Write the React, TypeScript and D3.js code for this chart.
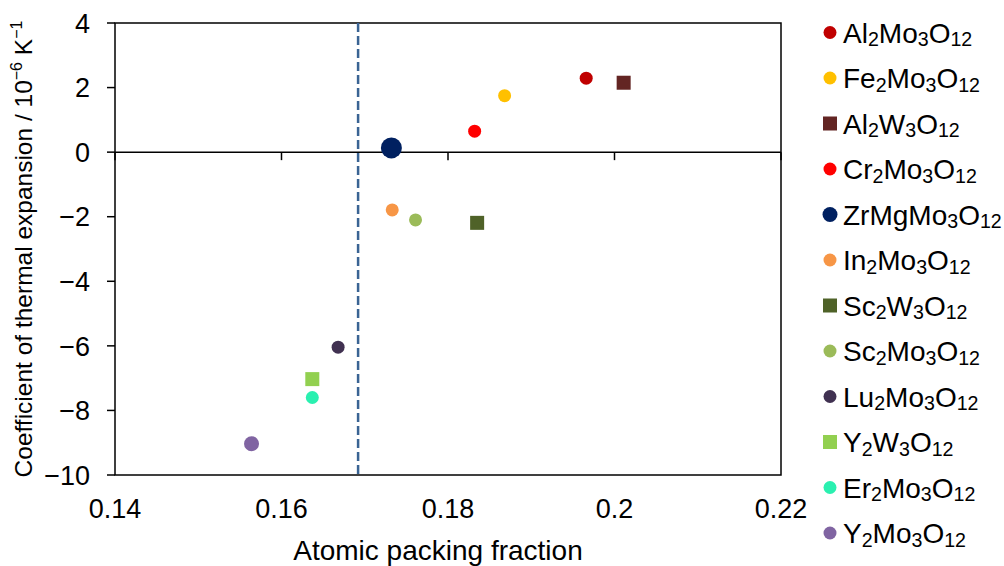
import React from "react";
import * as d3 from "d3";

// compounds
const names = [
  "Al2Mo3O12", "Fe2Mo3O12", "Al2W3O12", "Cr2Mo3O12", "ZrMgMo3O12", "In2Mo3O12",
  "Sc2W3O12", "Sc2Mo3O12", "Lu2Mo3O12", "Y2W3O12", "Er2Mo3O12", "Y2Mo3O12",
];
const packing = [0.1966, 0.1868, 0.2011, 0.1832, 0.1732, 0.1733, 0.1835, 0.1761, 0.1668, 0.1637, 0.1637, 0.1564];
const cte = [2.29, 1.75, 2.15, 0.65, 0.13, -1.79, -2.19, -2.1, -6.04, -7.03, -7.6, -9.03];
const shapes = ["circle", "circle", "square", "circle", "circle", "circle", "square", "circle", "circle", "square", "circle", "circle"];
const colors = [
  "#C00000", "#FFC000", "#632523", "#FF0000", "#002060", "#F79646",
  "#4F6228", "#9BBB59", "#403151", "#92D050", "#2AF0B0", "#8064A2",
];
const bigMarkers = ["ZrMgMo3O12"];

const xTicks = [0.14, 0.16, 0.18, 0.2, 0.22];
const yTicks = [4, 2, 0, -2, -4, -6, -8, -10];
const threshold = 0.1692;

const W = 1004;
const H = 566;
const font = "'Liberation Sans', Arial, sans-serif";

// split "Al2Mo3O12" into text / subscript runs
const formula = (name: string, size: number) => {
  const parts = name.match(/[A-Za-z]+|\d+/g) || [];
  const shift = size * 0.14;
  return parts.map((p, i) =>
    /\d/.test(p) ? (
      <tspan key={i} fontSize={size * 0.7} dy={shift}>{p}</tspan>
    ) : (
      <tspan key={i} dy={i > 0 ? -shift : 0}>{p}</tspan>
    )
  );
};

const Marker = ({ x, y, shape, color, r }: any) =>
  shape === "square" ? (
    <rect x={x - r} y={y - r} width={r * 2} height={r * 2} fill={color} />
  ) : (
    <circle cx={x} cy={y} r={r} fill={color} />
  );

export default function App() {
  const x = d3.scaleLinear().domain([0.14, 0.22]).range([115, 781]);
  const y = d3.scaleLinear().domain([-10, 4]).range([475, 23]);
  const fmt = (v: number) => (v < 0 ? "\u2212" + Math.abs(v) : String(v));

  const radius = (i: number) => {
    if (bigMarkers.includes(names[i])) return 10.5;
    if (shapes[i] === "square") return 7;
    if (names[i] === "Y2Mo3O12") return 7.5;
    return 6.5;
  };

  return (
    <svg
      width={W}
      height={H}
      style={{ position: "absolute", left: 0, top: 0, background: "#fff" }}
      fontFamily={font}
    >
      {/* frame */}
      <rect x={x(0.14)} y={y(4)} width={x(0.22) - x(0.14)} height={y(-10) - y(4)} fill="none" stroke="#000" strokeWidth={1.5} />
      {/* y ticks + labels */}
      {yTicks.map((t) => (
        <g key={t}>
          <line x1={x(0.14) - 8} x2={x(0.14)} y1={y(t)} y2={y(t)} stroke="#000" strokeWidth={1.5} />
          <text x={90} y={y(t)} dy="0.36em" textAnchor="end" fontSize={27}>{fmt(t)}</text>
        </g>
      ))}
      {/* x axis at zero */}
      <line x1={x(0.14)} x2={x(0.22)} y1={y(0)} y2={y(0)} stroke="#000" strokeWidth={1.5} />
      {xTicks.map((t) => (
        <g key={t}>
          <line x1={x(t)} x2={x(t)} y1={y(0)} y2={y(0) + 8} stroke="#000" strokeWidth={1.5} />
          <text x={x(t)} y={518} textAnchor="middle" fontSize={27}>{t}</text>
        </g>
      ))}
      {/* threshold line */}
      <line x1={x(threshold)} x2={x(threshold)} y1={y(4)} y2={y(-10)} stroke="#3A6494" strokeWidth={2.5} strokeDasharray="9,4" />
      {/* points */}
      {names.map((n, i) => (
        <Marker key={n} x={x(packing[i])} y={y(cte[i])} shape={shapes[i]} color={colors[i]} r={radius(i)} />
      ))}
      {/* axis titles */}
      <text x={438} y={560} textAnchor="middle" fontSize={28}>Atomic packing fraction</text>
      <text transform="translate(32,249) rotate(-90)" textAnchor="middle" fontSize={24.5}>
        Coefficient of thermal expansion / 10
        <tspan fontSize={16} dy={-10}>{"\u22126"}</tspan>
        <tspan dy={10}> K</tspan>
        <tspan fontSize={16} dy={-10}>{"\u22121"}</tspan>
      </text>
      {/* legend */}
      {names.map((n, i) => {
        const ly = 32.5 + i * 45.5;
        const r = bigMarkers.includes(n) ? 7.5 : shapes[i] === "square" ? 7 : 6.5;
        return (
          <g key={n}>
            <Marker x={830} y={ly} shape={shapes[i]} color={colors[i]} r={r} />
            <text x={843} y={ly + 10} fontSize={28}>{formula(n, 28)}</text>
          </g>
        );
      })}
    </svg>
  );
}
